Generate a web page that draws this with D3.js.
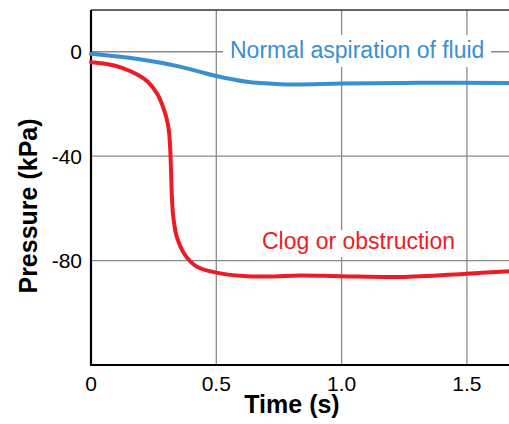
<!DOCTYPE html>
<html>
<head>
<meta charset="utf-8">
<script src="https://cdn.jsdelivr.net/npm/d3@7"></script>
<style>
  body { margin: 0; background: #fff; }
  svg { display: block; font-family: "Liberation Sans", Arial, sans-serif; }
</style>
</head>
<body>
<div id="chart"></div>
<script>
const W = 509;
const H = 424;

const MARGIN = { TOP: 10, RIGHT: 0, BOTTOM: 59, LEFT: 91 };
const WIDTH = W - MARGIN.LEFT - MARGIN.RIGHT;
const HEIGHT = H - MARGIN.TOP - MARGIN.BOTTOM;

// time (s) and pressure (kPa)
const normalTime = [0, 0.188, 0.355, 0.435, 0.5, 0.621, 0.754, 0.834, 1.0, 1.3, 1.668];
const normalPressure = [-0.8, -2.8, -5.7, -7.7, -9.3, -11.5, -12.4, -12.5, -12.2, -11.9, -12];

const clogTime = [0, 0.068, 0.121, 0.188, 0.227, 0.267, 0.294, 0.304, 0.311, 0.316, 0.3195, 0.323, 0.327,
  0.333, 0.342, 0.375, 0.422, 0.5, 0.608, 0.714, 0.834, 1.0, 1.233, 1.5, 1.668];
const clogPressure = [-4, -4.8, -6.1, -8.9, -11.5, -16.6, -23, -26.5, -30.5, -37, -46, -56, -62,
  -66.5, -70.8, -77.8, -82.3, -84.6, -85.9, -86.1, -85.7, -86, -86.3, -85, -84.1];

const xTicks = [0, 0.5, 1.0, 1.5];
const xTickLabels = ["0", "0.5", "1.0", "1.5"];
const yTicks = [0, -40, -80];
const yTickLabels = ["0", "-40", "-80"];

const seriesNames = ["Normal aspiration of fluid", "Clog or obstruction"];
const colors = ["#3a8fd0", "#ec1c26"];

const svg = d3.select("#chart")
  .append("svg")
  .attr("width", W)
  .attr("height", H);

const g = svg.append("g")
  .attr("transform", `translate(${MARGIN.LEFT}, ${MARGIN.TOP})`);

const xScale = d3.scaleLinear().domain([0, 1.668]).range([0, WIDTH]);
const yScale = d3.scaleLinear().domain([-120, 16]).range([HEIGHT, 0]);

// grid
g.append("g")
  .selectAll("line")
  .data(xTicks.slice(1))
  .join("line")
  .attr("x1", (d) => xScale(d))
  .attr("x2", (d) => xScale(d))
  .attr("y1", 0)
  .attr("y2", HEIGHT)
  .attr("stroke", "#8a8a8a")
  .attr("stroke-width", 1.3);

g.append("g")
  .selectAll("line")
  .data(yTicks)
  .join("line")
  .attr("x1", 0)
  .attr("x2", WIDTH)
  .attr("y1", (d) => yScale(d))
  .attr("y2", (d) => yScale(d))
  .attr("stroke", "#8a8a8a")
  .attr("stroke-width", 1.3);

// frame: top thin, left + bottom heavy
g.append("line")
  .attr("x1", 0).attr("x2", WIDTH)
  .attr("y1", 0).attr("y2", 0)
  .attr("stroke", "#333").attr("stroke-width", 1.5);

g.append("path")
  .attr("d", `M0,0V${HEIGHT}H${WIDTH}`)
  .attr("fill", "none")
  .attr("stroke", "#000")
  .attr("stroke-width", 2.2);

// tick labels
g.append("g")
  .selectAll("text")
  .data(xTicks)
  .join("text")
  .attr("x", (d) => xScale(d))
  .attr("y", HEIGHT + 26)
  .attr("text-anchor", "middle")
  .attr("font-size", 21)
  .text((d, i) => xTickLabels[i]);

g.append("g")
  .selectAll("text")
  .data(yTicks)
  .join("text")
  .attr("x", -9)
  .attr("y", (d) => yScale(d))
  .attr("dy", "0.36em")
  .attr("text-anchor", "end")
  .attr("font-size", 21)
  .text((d, i) => yTickLabels[i]);

// axis titles
svg.append("text")
  .attr("x", 292)
  .attr("y", 413)
  .attr("text-anchor", "middle")
  .attr("font-size", 25)
  .attr("font-weight", "bold")
  .text("Time (s)");

svg.append("text")
  .attr("transform", "translate(37, 206) rotate(-90)")
  .attr("text-anchor", "middle")
  .attr("font-size", 25)
  .attr("font-weight", "bold")
  .text("Pressure (kPa)");

// curves
const line = d3.line()
  .x((d) => xScale(d[0]))
  .y((d) => yScale(d[1]))
  .curve(d3.curveCatmullRom.alpha(0.5));

const series = [
  normalTime.map((t, i) => [t, normalPressure[i]]),
  clogTime.map((t, i) => [t, clogPressure[i]]),
];

g.append("g")
  .selectAll("path")
  .data(series)
  .join("path")
  .attr("d", line)
  .attr("fill", "none")
  .attr("stroke", (d, i) => colors[i])
  .attr("stroke-width", 4)
  .attr("stroke-linecap", "round");

// labels on white boxes, cutting the grid
const labels = [
  { x: 230, y: 58, box: [223, 35, 268, 32] },
  { x: 262, y: 249, box: [255, 230, 207, 27] },
];

labels.forEach((l, i) => {
  svg.append("rect")
    .attr("x", l.box[0]).attr("y", l.box[1])
    .attr("width", l.box[2]).attr("height", l.box[3])
    .attr("fill", "#fff");
  svg.append("text")
    .attr("x", l.x)
    .attr("y", l.y)
    .attr("font-size", 23)
    .attr("fill", colors[i])
    .text(seriesNames[i]);
});
</script>
</body>
</html>
